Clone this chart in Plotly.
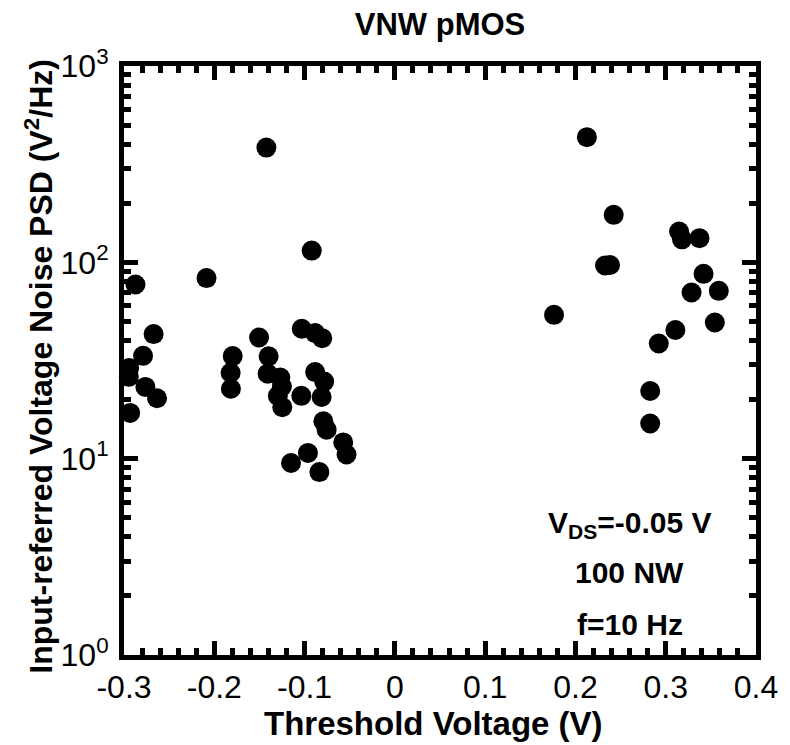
import plotly.graph_objects as go

# Threshold voltage (V) and input-referred voltage noise PSD (V^2/Hz)
vth = [
    -0.1423, -0.0921, -0.2086, -0.2873, -0.2672, -0.1504, -0.1031, -0.0883, -0.0805,
    -0.2789, -0.1796, -0.1398, -0.2943, -0.2947, -0.1819, -0.1409, -0.1269, -0.0883,
    -0.0783, -0.2763, -0.1816, -0.1251, -0.1036, -0.0811, -0.2634, -0.1296, -0.1247,
    -0.2932, -0.0792, -0.0756, -0.0572, -0.0535, -0.0963, -0.1150, -0.0836,
    0.2127, 0.2424, 0.3148, 0.3180, 0.3374, 0.2328, 0.2383, 0.3419, 0.3286, 0.3588,
    0.1763, 0.3544, 0.3107, 0.2923, 0.2828, 0.2828,
]
psd = [
    384, 114.8, 83.1, 77.1, 43.1, 41.4, 45.9, 43.6, 41.1,
    33.4, 33.3, 33.2, 29.0, 26.1, 27.4, 27.1, 25.9, 27.6,
    24.7, 23.2, 22.7, 23.3, 20.9, 20.6, 20.3, 20.9, 18.3,
    17.1, 15.5, 14.05, 12.1, 10.5, 10.7, 9.5, 8.54,
    434, 174.5, 143.5, 131, 132.8, 96.3, 96.9, 87.4, 70.2, 71.6,
    54.0, 49.4, 45.2, 38.6, 22.1, 15.1,
]

x_tickvals = [-0.3, -0.2, -0.1, 0, 0.1, 0.2, 0.3, 0.4]
x_ticktext = ["-0.3", "-0.2", "-0.1", "0", "0.1", "0.2", "0.3", "0.4"]
y_tickvals = [1, 10, 100, 1000]
y_ticktext = ["10<sup>0</sup>", "10<sup>1</sup>", "10<sup>2</sup>", "10<sup>3</sup>"]

FONT = "Liberation Sans, Arial, Helvetica, sans-serif"

fig = go.Figure()
fig.add_trace(go.Scatter(
    x=vth, y=psd, mode="markers",
    marker=dict(size=20, color="black", line=dict(width=0)),
    cliponaxis=False, showlegend=False,
))

axis_common = dict(
    showline=True, linewidth=5, linecolor="black", mirror="ticks",
    ticks="inside", ticklen=14, tickwidth=5, tickcolor="black",
    showgrid=False, zeroline=False,
    tickfont=dict(family=FONT, size=32, color="black"),
)

fig.update_xaxes(
    range=[-0.3, 0.4], tickmode="array", tickvals=x_tickvals, ticktext=x_ticktext,
    minor=dict(ticks="inside", ticklen=7, tickwidth=5, tickcolor="black",
               tick0=-0.3, dtick=0.02, showgrid=False),
    **axis_common,
)
fig.update_yaxes(
    type="log", range=[0, 3], tickmode="array", tickvals=y_tickvals, ticktext=y_ticktext,
    minor=dict(ticks="inside", ticklen=7, tickwidth=5, tickcolor="black",
               dtick="D1", showgrid=False),
    ticklabelstandoff=4,
    **axis_common,
)

fig.update_layout(
    width=790, height=745,
    margin=dict(l=124, r=30, t=66, b=90),
    paper_bgcolor="white", plot_bgcolor="white",
    title=dict(text="<b>VNW pMOS</b>", x=0.557, xanchor="center", y=0.967, yanchor="middle",
               font=dict(family=FONT, size=31, color="black")),
    font=dict(family=FONT, color="black"),
)

# axis titles
fig.add_annotation(text="<b>Threshold Voltage (V)</b>", xref="paper", yref="paper",
                   x=0.49, y=-0.117, xanchor="center", yanchor="middle", borderpad=0,
                   showarrow=False, font=dict(family=FONT, size=33, color="black"))
fig.add_annotation(text="<b>Input-referred Voltage Noise PSD (V<sup>2</sup>/Hz)</b>",
                   xref="paper", yref="paper", textangle=-90,
                   x=-0.134, y=0.49, xanchor="center", yanchor="middle",
                   showarrow=False, font=dict(family=FONT, size=32, color="black"))

ann_font = dict(family=FONT, size=30, color="black")
fig.add_annotation(text="<b>V<sub>DS</sub>=-0.05 V</b>", xref="paper", yref="paper",
                   x=0.80, y=0.222, xanchor="center", yanchor="middle",
                   showarrow=False, font=ann_font)
fig.add_annotation(text="<b>100 NW</b>", xref="paper", yref="paper",
                   x=0.80, y=0.140, xanchor="center", yanchor="middle",
                   showarrow=False, font=ann_font)
fig.add_annotation(text="<b>f=10 Hz</b>", xref="paper", yref="paper",
                   x=0.80, y=0.052, xanchor="center", yanchor="middle",
                   showarrow=False, font=ann_font)

fig.write_html("out.html")
